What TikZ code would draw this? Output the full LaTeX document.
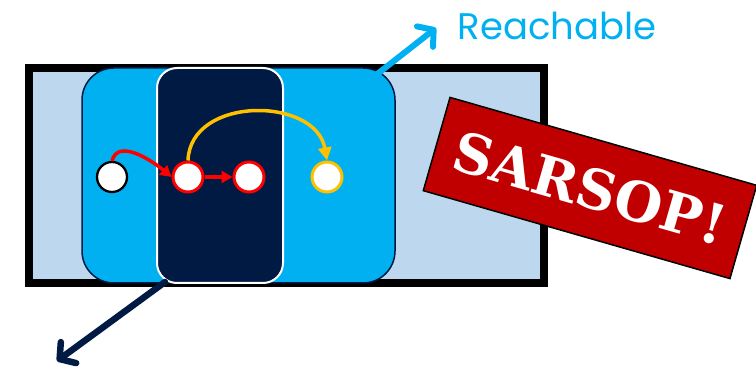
\documentclass[tikz,border=0pt]{standalone}
\usepackage{fontspec}
\newfontfamily\reachfont{Poppins}
\newfontfamily\slabfont{DejaVu Serif}
\usetikzlibrary{arrows.meta}
\definecolor{lightbg}{HTML}{BDD7EE}
\definecolor{reachc}{HTML}{00B0F0}
\definecolor{navyc}{HTML}{001A43}
\definecolor{darkred}{HTML}{C00000}
\definecolor{goldc}{HTML}{FFC000}
\begin{document}
\begin{tikzpicture}[x=1pt,y=1pt,
  state/.style={circle,fill=white,minimum size=30pt,inner sep=0pt,line width=3pt},
  redarrow/.style={draw=red,line width=3.5pt,-{Triangle[length=11pt,width=12pt]}},
  goldarrow/.style={draw=goldc,line width=3.5pt,-{Triangle[length=13pt,width=13pt]}},
  bigarrow/.style={line width=6pt,line cap=round,-{Straight Barb[length=11pt,width=26pt,line cap=round,line join=round]}}]
\useasboundingbox (0,0) rectangle (756,367);
% outer rectangle
\node[draw=black,fill=lightbg,line width=8pt,minimum width=515pt,minimum height=215pt,inner sep=0pt] (box) at (286.5,191.5) {};
% reachable region
\node[draw=navyc,fill=reachc,line width=1.5pt,rounded corners=32pt,minimum width=313pt,minimum height=215pt,inner sep=0pt] (reach) at (238.5,191.5) {};
% optimal region
\node[draw=white,fill=navyc,line width=2pt,rounded corners=20pt,minimum width=126pt,minimum height=215pt,inner sep=0pt] (opt) at (220,191.5) {};
% states
\node[state,draw=black,line width=2.3pt] (b0) at (112,190) {};
\node[state,draw=red] (r1) at (188,190) {};
\node[state,draw=red] (r2) at (249,190) {};
\node[state,draw=goldc] (y1) at (327,190) {};
\draw[redarrow] (b0.north) to[out=75,in=140] (r1.west);
\draw[redarrow] (r1.east) -- (r2.west);
\draw[goldarrow] (r1.north) to[out=88,in=100,looseness=1.2] (y1.north);
% reachable arrow and label
\coordinate (rs) at (376,292);
\coordinate (re) at (436,339);
\draw[bigarrow,draw=reachc] (rs) -- (re);
\node[text=reachc,font=\reachfont\fontsize{37}{44}\selectfont,anchor=center] (rlabel) at (557,341) {Reachable};
% optimal arrow
\coordinate (os) at (165,85);
\coordinate (oe) at (57,6);
\draw[bigarrow,draw=navyc,line width=6.5pt] (os) -- (oe);
% SARSOP banner
\node[draw=black,fill=darkred,line width=1.5pt,minimum width=319pt,minimum height=97pt,inner sep=0pt,rotate=-16,text=white,font=\slabfont\bfseries\fontsize{55}{62}\selectfont] (sarsop) at (590,179) {SARSOP!};
\end{tikzpicture}
\end{document}
